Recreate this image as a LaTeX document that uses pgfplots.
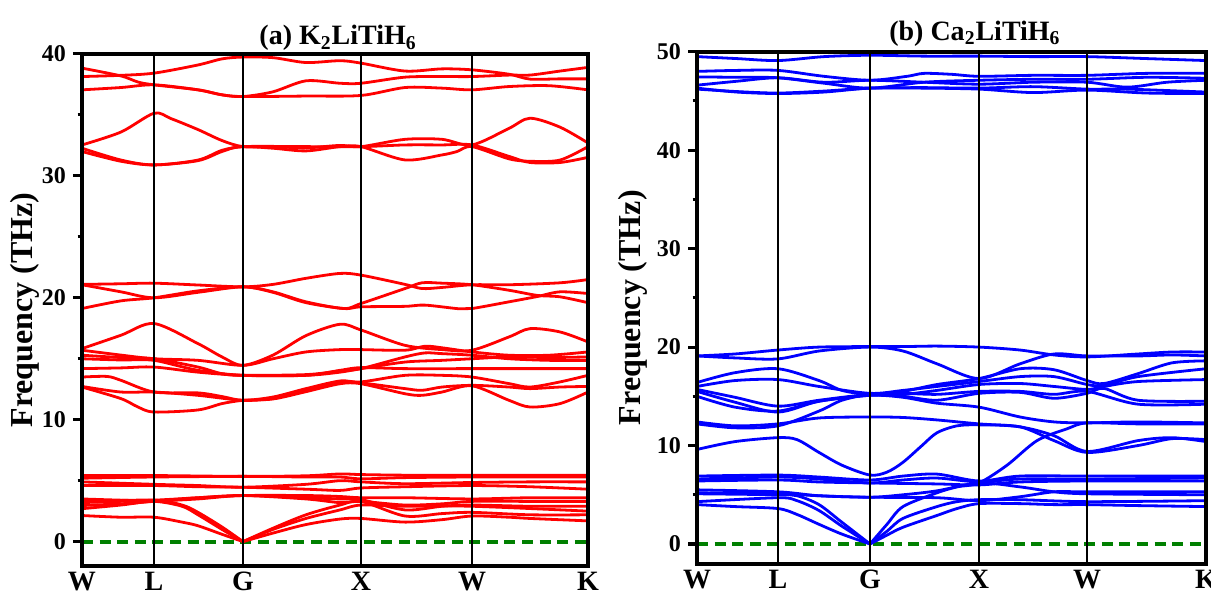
\documentclass[border=0pt]{standalone}
\usepackage{fontspec}
\setmainfont{Liberation Serif}
\usepackage{pgfplots}
\pgfplotsset{compat=1.18}
\pgfplotsset{
 bandaxis/.style={
  scale only axis, axis on top, no markers,
  axis line style={line width=2pt},
  xmin=0, ymin=-2,
  xtick style={draw=none},
  xmajorgrids, grid style={black, line width=1.1pt},
  ytick pos=left, tick align=outside,
  major tick length=4.5pt, minor tick length=2.2pt,
  ytick style={line width=1.5pt, black},
  minor y tick num=1,
  xticklabel style={font=\bfseries\fontsize{14}{14}\selectfont, inner sep=0pt, yshift=1.5pt},
  yticklabel style={font=\bfseries\fontsize{12}{12}\selectfont},
  /pgf/number format/assume math mode=true,
  ylabel={Frequency (THz)},
  ylabel style={font=\bfseries\fontsize{16}{16}\selectfont, anchor=center},
  title style={font=\bfseries\fontsize{14}{14}\selectfont, anchor=center},
 },
 ra/.style={red, line width=1.4pt, smooth, tension=0.5},
 bb/.style={blue, line width=1.4pt, smooth, tension=0.5},
 zl/.style={green!50!black, line width=2pt, dash pattern=on 5.5pt off 3.3pt},
}
\begin{document}
\begin{tikzpicture}
\useasboundingbox (0,0) rectangle (605.5pt,299pt);
% ---------------- panel (a)
\begin{axis}[bandaxis, at={(41pt,16pt)}, anchor=south west,
  width=253pt, height=256pt, xmax=506, ymax=40,
  ytick={0,10,20,30,40},
  xtick={0,72,161,279,390,506}, xticklabels={W,L,G,X,W,K},
  title={(a) K\textsubscript{2}LiTiH\textsubscript{6}},
  title style={at={(0.506,1)}, yshift=2pt},
  ylabel style={at={(axis description cs:-0.1126,0.5)}}]
\addplot[zl] coordinates {(0,0) (506,0)};
% top group
\addplot[ra] coordinates {(0,38.15) (39,38.25) (72,38.43) (116,39.1) (140,39.6) (161,39.75) (191,39.7) (224,39.3) (258,39.45) (279,39.25) (323,38.6) (360,38.78) (390,38.7) (427,38.34) (448,37.94) (478,37.96) (506,37.96)};
\addplot[ra] coordinates {(0,38.84) (39,38.2) (56,37.7) (72,37.47) (116,37.06) (140,36.65) (161,36.51) (191,36.9) (224,37.8) (258,37.6) (279,37.6) (323,38.1) (360,38.15) (390,38.15) (427,38.27) (448,38.27) (478,38.6) (506,38.9)};
\addplot[ra] coordinates {(0,37.06) (39,37.25) (72,37.47) (116,37.06) (140,36.65) (161,36.51) (224,36.55) (279,36.6) (323,37.25) (360,37.2) (390,37.06) (427,37.33) (467,37.4) (506,37.06)};
\addplot[ra] coordinates {(0,32.54) (39,33.6) (72,35.14) (89,34.7) (116,33.8) (140,32.9) (161,32.4) (191,32.4) (224,32.3) (258,32.5) (279,32.4) (323,33.0) (360,33.0) (390,32.54) (427,33.9) (448,34.73) (478,34.0) (506,32.7)};
\addplot[ra] coordinates {(0,32.27) (39,31.3) (72,30.9) (116,31.3) (140,32.1) (161,32.4) (191,32.27) (224,32.05) (258,32.4) (279,32.4) (323,31.31) (360,31.72) (375,32.0) (390,32.4) (427,31.4) (448,31.2) (478,31.3) (506,32.4)};
\addplot[ra] coordinates {(0,32.0) (39,31.2) (72,30.9) (116,31.25) (140,32.0) (161,32.4) (224,32.4) (279,32.4) (323,32.54) (360,32.54) (390,32.54) (427,31.6) (448,31.1) (478,31.1) (506,31.52)};
% 19-22
\addplot[ra] coordinates {(0,21.1) (39,21.15) (72,21.2) (116,21.05) (161,20.9) (191,21.1) (224,21.6) (258,22.0) (279,21.86) (323,21.1) (340,20.76) (360,20.85) (390,21.07) (427,21.07) (478,21.23) (506,21.5)};
\addplot[ra] coordinates {(0,21.07) (39,20.49) (72,20.0) (116,20.45) (161,20.9) (191,20.49) (224,19.67) (262,19.12) (279,19.53) (323,20.76) (340,21.23) (360,21.2) (390,21.07) (427,20.62) (455,20.2) (478,20.08) (506,19.6)};
\addplot[ra] coordinates {(0,19.12) (39,19.75) (72,20.0) (116,20.57) (161,20.9) (191,20.45) (224,19.6) (262,19.12) (279,19.26) (323,19.3) (343,19.4) (377,19.1) (390,19.12) (427,19.67) (455,20.1) (478,20.49) (506,20.35)};
% 10-18
\addplot[ra] coordinates {(0,15.83) (39,16.93) (72,17.89) (116,16.24) (140,15.15) (161,14.46) (191,15.3) (224,16.9) (258,17.83) (279,17.36) (323,16.1) (360,15.75) (390,15.7) (427,16.79) (448,17.47) (478,17.2) (506,16.38)};
\addplot[ra] coordinates {(0,15.7) (39,15.3) (72,15.0) (116,14.87) (161,14.46) (191,15.0) (224,15.56) (258,15.75) (279,15.75) (323,15.7) (343,16.03) (360,15.9) (390,15.56) (427,15.29) (467,15.29) (506,15.56)};
\addplot[ra] coordinates {(0,15.29) (39,15.1) (72,15.0) (116,14.32) (140,13.77) (161,13.64) (224,13.7) (258,14.0) (279,14.19) (323,15.15) (343,15.48) (360,15.42) (390,15.29) (427,15.0) (467,14.87) (506,14.87)};
\addplot[ra] coordinates {(0,15.0) (39,14.9) (72,14.87) (116,14.05) (161,13.64) (224,13.64) (258,13.9) (279,14.19) (323,14.73) (360,14.87) (390,15.0) (427,15.15) (467,15.1) (506,15.15)};
\addplot[ra] coordinates {(0,14.19) (39,14.25) (72,14.32) (116,13.9) (161,13.64) (224,13.64) (258,14.05) (279,14.27) (323,14.19) (390,14.19) (448,14.19) (506,14.19)};
\addplot[ra] coordinates {(0,13.5) (25,13.55) (39,13.23) (72,12.27) (116,12.2) (140,11.9) (161,11.59) (191,11.86) (224,12.55) (258,13.18) (279,13.1) (323,13.64) (360,13.64) (390,13.5) (427,12.96) (448,12.68) (478,13.1) (506,13.64)};
\addplot[ra] coordinates {(0,12.73) (39,12.27) (72,12.27) (116,12.0) (161,11.59) (191,11.75) (224,12.41) (258,13.1) (279,13.02) (323,12.55) (340,12.41) (360,12.68) (390,12.82) (427,12.68) (448,12.55) (478,12.68) (506,12.73)};
\addplot[ra] coordinates {(0,12.68) (39,11.73) (56,11.04) (72,10.63) (116,10.8) (140,11.32) (161,11.59) (191,11.7) (224,12.3) (258,12.95) (279,12.95) (323,12.13) (340,12.0) (360,12.27) (390,12.78) (427,11.59) (448,11.04) (478,11.32) (506,12.27)};
% low group
\addplot[ra] coordinates {(0,5.42) (72,5.42) (161,5.35) (224,5.4) (258,5.55) (279,5.5) (323,5.45) (390,5.45) (448,5.45) (506,5.45)};
\addplot[ra] coordinates {(0,5.2) (72,5.3) (161,5.35) (224,5.3) (258,5.3) (279,5.15) (323,5.25) (390,5.3) (448,5.3) (506,5.3)};
\addplot[ra] coordinates {(0,4.9) (72,4.7) (116,4.6) (161,4.46) (224,4.7) (258,5.0) (279,4.9) (323,4.75) (390,4.85) (448,4.9) (506,4.9)};
\addplot[ra] coordinates {(0,4.6) (72,4.6) (116,4.5) (161,4.46) (224,4.3) (258,4.2) (279,4.4) (323,4.5) (390,4.6) (448,4.5) (506,4.3)};
\addplot[ra] coordinates {(0,3.5) (39,3.4) (72,3.35) (116,3.6) (161,3.78) (224,3.5) (258,3.2) (279,3.3) (323,3.0) (360,3.1) (390,3.3) (448,3.3) (506,3.3)};
\addplot[ra] coordinates {(0,3.2) (72,3.4) (116,3.6) (161,3.78) (224,3.78) (258,3.7) (279,3.6) (323,3.6) (390,3.5) (448,3.6) (506,3.6)};
\addplot[ra] coordinates {(0,2.96) (39,3.1) (72,3.3) (116,3.5) (161,3.78) (224,3.6) (258,3.5) (279,3.45) (323,2.6) (360,2.9) (390,3.0) (448,2.9) (506,2.9)};
\addplot[ra] coordinates {(0,2.14) (39,2.0) (72,2.0) (100,1.6) (116,1.3) (140,0.6) (161,0)};
\addplot[ra] coordinates {(161,0) (191,0.7) (224,1.4) (258,1.85) (279,1.9) (323,1.6) (360,1.8) (390,2.1) (427,2.0) (448,1.9) (506,1.7)};
\addplot[ra] coordinates {(0,2.7) (39,3.0) (72,3.3) (100,2.9) (116,2.2) (140,1.0) (161,0)};
\addplot[ra] coordinates {(161,0) (191,1.1) (224,2.2) (258,3.0) (279,3.3) (323,2.1) (360,2.3) (390,2.4) (448,2.2) (506,2.2)};
\addplot[ra] coordinates {(0,3.3) (72,3.4) (100,3.0) (116,2.4) (140,1.2) (161,0)};
\addplot[ra] coordinates {(161,0) (191,1.0) (224,1.9) (258,2.6) (279,3.0) (323,2.9) (390,2.9) (506,2.5)};
\end{axis}
% ---------------- panel (b)
\begin{axis}[bandaxis, at={(348.5pt,17.15pt)}, anchor=south west,
  width=254.5pt, height=256pt, xmax=509, ymax=50,
  ytick={0,10,20,30,40,50},
  xtick={0,81,173,282,390,509}, xticklabels={W,L,G,X,W,K},
  title={(b) Ca\textsubscript{2}LiTiH\textsubscript{6}},
  title style={at={(0.546,1)}, yshift=3pt},
  ylabel style={at={(axis description cs:-0.1257,0.5)}}]
\addplot[zl] coordinates {(0,0) (509,0)};
% top
\addplot[bb] coordinates {(0,49.5) (40,49.3) (81,49.1) (127,49.5) (173,49.64) (227,49.55) (282,49.55) (336,49.5) (390,49.5) (450,49.3) (509,49.1)};
\addplot[bb] coordinates {(0,48.0) (40,48.1) (81,48.1) (127,47.5) (173,47.1) (210,47.5) (227,47.8) (255,47.7) (282,47.5) (336,47.6) (390,47.6) (450,47.8) (509,47.8)};
\addplot[bb] coordinates {(0,47.44) (40,47.4) (81,47.35) (127,46.8) (173,46.3) (227,46.9) (282,47.1) (336,47.2) (390,47.2) (450,47.4) (509,47.3)};
\addplot[bb] coordinates {(0,46.6) (40,47.0) (81,47.35) (127,46.9) (173,47.1) (227,46.9) (282,46.7) (336,46.9) (390,46.9) (430,46.4) (470,46.9) (509,47.1)};
\addplot[bb] coordinates {(0,46.3) (40,45.9) (81,45.75) (127,45.9) (173,46.3) (227,46.3) (282,46.2) (336,45.85) (390,46.1) (450,45.8) (509,45.75)};
\addplot[bb] coordinates {(0,46.2) (40,45.95) (81,45.8) (127,46.0) (173,46.3) (227,46.35) (282,46.3) (336,46.45) (390,46.2) (430,46.2) (509,45.9)};
% 9-20
\addplot[bb] coordinates {(0,19.1) (38,19.3) (81,19.7) (122,20.0) (173,20.05) (206,20.05) (240,20.1) (282,20.0) (323,19.7) (357,19.2) (390,19.0) (441,19.3) (475,19.5) (509,19.5)};
\addplot[bb] coordinates {(0,19.1) (38,18.9) (81,18.8) (122,19.6) (173,20.0) (206,19.6) (240,18.3) (282,16.8) (323,18.3) (357,19.3) (390,19.1) (441,19.1) (475,19.2) (509,19.1)};
\addplot[bb] coordinates {(0,16.4) (38,17.4) (81,17.8) (122,16.6) (145,15.6) (173,15.2) (206,15.5) (240,16.2) (282,16.8) (323,17.8) (357,17.7) (390,16.6) (407,16.3) (441,17.3) (475,18.4) (509,18.6)};
\addplot[bb] coordinates {(0,16.0) (38,16.6) (81,16.7) (122,16.0) (173,15.3) (206,15.6) (240,16.0) (282,16.5) (323,17.0) (357,17.0) (390,16.2) (407,16.1) (441,17.0) (509,17.8)};
\addplot[bb] coordinates {(0,15.7) (38,14.9) (81,14.0) (122,14.6) (173,15.2) (206,15.2) (240,15.6) (282,16.2) (323,16.3) (357,16.0) (390,15.7) (407,16.0) (441,16.5) (509,16.7)};
\addplot[bb] coordinates {(0,15.5) (38,14.4) (81,13.4) (122,14.5) (173,15.1) (206,15.0) (240,14.6) (282,15.3) (323,15.4) (357,14.8) (390,15.3) (407,15.8) (441,14.6) (509,14.5)};
\addplot[bb] coordinates {(0,15.0) (38,13.9) (81,13.5) (122,14.5) (173,15.1) (206,14.9) (240,14.3) (282,13.9) (323,12.9) (357,12.4) (390,12.3) (441,12.4) (509,12.3)};
\addplot[bb] coordinates {(0,12.4) (38,12.0) (81,12.2) (122,12.8) (173,12.9) (206,12.85) (240,12.6) (282,12.2) (323,11.9) (357,11.0) (390,9.4) (441,10.5) (475,10.8) (509,10.4)};
\addplot[bb] coordinates {(0,12.2) (38,11.8) (81,12.0) (122,13.5) (145,14.6) (173,15.2) (206,15.3) (240,15.2) (282,15.5) (323,15.5) (357,15.2) (390,15.5) (441,14.2) (509,14.2)};
\addplot[bb] coordinates {(0,9.6) (38,10.4) (81,10.8) (100,10.6) (122,9.3) (145,8.0) (173,7.0) (190,7.3) (206,8.3) (225,10.0) (240,11.3) (260,12.0) (282,12.1) (323,11.9) (357,10.5) (390,9.3) (441,10.0) (475,10.7) (509,10.6)};
% low
\addplot[bb] coordinates {(0,6.9) (81,7.0) (122,6.8) (173,6.5) (206,6.9) (240,7.1) (282,6.4) (323,6.9) (390,6.9) (509,6.9)};
\addplot[bb] coordinates {(0,6.6) (81,6.8) (122,6.6) (173,6.2) (206,6.5) (240,6.7) (282,6.3) (323,6.6) (390,6.6) (509,6.7)};
\addplot[bb] coordinates {(0,6.4) (81,6.5) (122,6.3) (173,6.2) (240,6.1) (282,6.0) (323,6.3) (390,6.4) (509,6.4)};
\addplot[bb] coordinates {(0,5.5) (81,5.3) (122,4.9) (173,4.75) (240,4.7) (282,4.4) (323,4.8) (357,5.3) (390,5.3) (509,5.3)};
\addplot[bb] coordinates {(0,5.2) (81,5.1) (122,4.9) (173,4.75) (206,5.0) (240,5.4) (282,6.2) (323,5.8) (357,5.3) (390,5.1) (509,5.0)};
\addplot[bb] coordinates {(0,4.0) (38,3.8) (81,3.6) (100,3.0) (122,2.0) (145,1.0) (173,0)};
\addplot[bb] coordinates {(173,0) (190,0.9) (206,1.7) (240,2.9) (260,3.6) (282,4.1) (323,4.1) (357,4.0) (390,4.0) (441,3.9) (509,3.8)};
\addplot[bb] coordinates {(0,4.3) (81,4.7) (100,4.4) (122,3.4) (145,1.8) (173,0)};
\addplot[bb] coordinates {(173,0) (190,1.3) (206,2.6) (240,3.8) (260,4.3) (282,4.5) (323,4.5) (390,4.3) (509,4.4)};
\addplot[bb] coordinates {(0,5.1) (81,5.0) (100,4.9) (122,4.0) (145,2.2) (173,0)};
\addplot[bb] coordinates {(173,0) (190,2.0) (206,3.8) (240,5.2) (260,5.8) (282,6.2) (310,8.0) (340,10.5) (370,11.7) (390,12.3) (441,12.2) (509,12.2)};
\end{axis}
\end{tikzpicture}
\end{document}
